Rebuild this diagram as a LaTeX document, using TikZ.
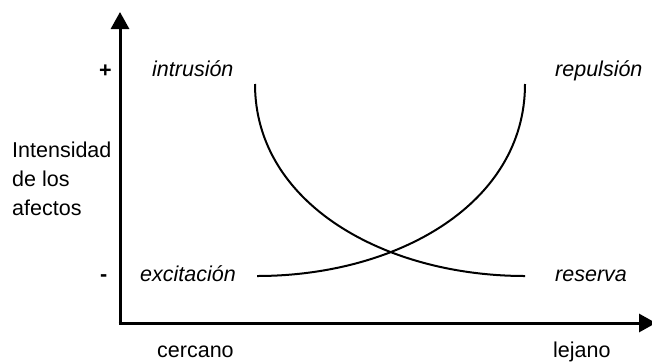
\documentclass[tikz,border=0pt]{standalone}
\usepackage{fontspec}
\setmainfont{Liberation Sans}
\usetikzlibrary{arrows.meta}
\begin{document}
\begin{tikzpicture}[x=1pt,y=-1pt,
  lbl/.style={inner sep=0pt,font=\fontsize{21.5}{29}\selectfont},
  ilbl/.style={lbl,font=\fontsize{21.5}{29}\selectfont\itshape},
  axis/.style={line width=3pt,-{Triangle[length=17pt,width=18pt]}},
  curve/.style={line width=2pt}]
\useasboundingbox (0,0) rectangle (652,362);
\coordinate (o) at (120,323);
\coordinate (ytip) at (120,12);
\coordinate (xtip) at (656,323);
\draw[axis] ([yshift=-1.5pt]o) -- (ytip);
\draw[axis] ([xshift=-1.5pt]o) -- (xtip);
% labels
\node[lbl,font=\fontsize{21.5}{29}\selectfont\bfseries,anchor=base west] (plus) at (99,77) {+};
\node[lbl,font=\fontsize{21.5}{29}\selectfont\bfseries,anchor=base west] (minus) at (100,281) {-};
\node[ilbl,anchor=base west] (intr) at (152,76) {intrusión};
\node[ilbl,anchor=base west] (rep) at (555,76) {repulsión};
\node[ilbl,anchor=base west] (exc) at (140,281) {excitación};
\node[ilbl,anchor=base west] (res) at (555,281) {reserva};
\node[lbl,anchor=base west] (cer) at (157,357) {cercano};
\node[lbl,anchor=base west] (lej) at (553,357) {lejano};
\node[lbl,anchor=base west] (int1) at (12,157) {Intensidad};
\node[lbl,anchor=base west] (int2) at (12,186) {de los};
\node[lbl,anchor=base west] (int3) at (12,215) {afectos};
% curves
\coordinate (a1) at (255,84);
\coordinate (a2) at (525,276);
\coordinate (b1) at (257,276);
\coordinate (b2) at (525,84);
\draw[curve] (a1) .. controls (255,204) and (385,276) .. (a2);
\draw[curve] (b1) .. controls (397,276) and (525,204) .. (b2);
\end{tikzpicture}
\end{document}
